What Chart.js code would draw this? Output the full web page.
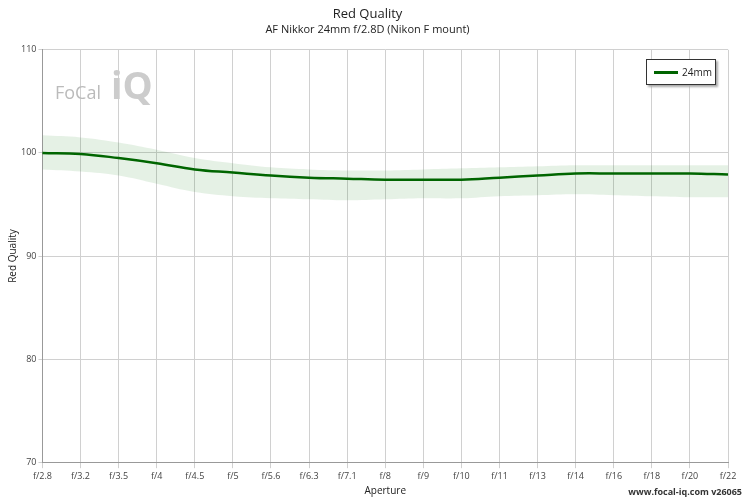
<!DOCTYPE html>
<html>
<head>
<meta charset="utf-8">
<script src="https://cdn.jsdelivr.net/npm/chart.js@4"></script>
<style>
  body { margin: 0; background: #fff; font-family: "Open Sans", sans-serif; }
  #wrap { position: relative; width: 750px; height: 500px; }
  #logo { position: absolute; left: 55px; top: 58px; font-size: 18px; color: #bbb; }
  #logo b { font-size: 38px; color: #ccc; }
  #legend { position: absolute; left: 646px; top: 59px; width: 68px; height: 24px; border: 1px solid #333;
            box-shadow: 2px 2px 2px #aaa; font-size: 10px; color: #222; background: #fff; }
  #legend span { position: absolute; left: 7px; top: 11px; width: 24px; height: 3px; background: #006400; }
  #legend em { position: absolute; left: 35px; top: 5px; font-style: normal; }
  #foot { position: absolute; right: 8px; bottom: 2px; font-size: 9px; font-weight: bold; color: #333; }
</style>
</head>
<body>
<div id="wrap">
  <canvas id="c" width="750" height="500"></canvas>
  <div id="logo">FoCal<b> iQ</b></div>
  <div id="legend"><span></span><em>24mm</em></div>
  <div id="foot">www.focal-iq.com v26065</div>
</div>
<script>
const apertures = ['f/2.8','f/3.2','f/3.5','f/4','f/4.5','f/5','f/5.6','f/6.3','f/7.1','f/8','f/9','f/10','f/11','f/13','f/14','f/16','f/18','f/20','f/22'];
const quality = [100, 99.9, 99.5, 99.0, 98.4, 98.1, 97.8, 97.6, 97.5, 97.4, 97.4, 97.4, 97.6, 97.8, 98.0, 98.0, 98.0, 98.0, 97.9];
const upper = [101.7, 101.5, 101.0, 100.3, 99.5, 99.0, 98.6, 98.4, 98.3, 98.3, 98.4, 98.5, 98.6, 98.7, 98.8, 98.8, 98.8, 98.8, 98.8];
const lower = [98.4, 98.2, 97.8, 97.0, 96.2, 95.8, 95.6, 95.5, 95.4, 95.5, 95.6, 95.6, 95.8, 95.9, 96.0, 95.9, 95.8, 95.7, 95.7];

Chart.defaults.font.family = '"Open Sans", sans-serif';
Chart.defaults.color = '#444';

new Chart(document.getElementById('c'), {
  type: 'line',
  data: {
    labels: apertures,
    datasets: [
      { label: 'upper', data: upper, borderWidth: 0, pointRadius: 0, fill: false, tension: 0.4 },
      { label: 'lower', data: lower, borderWidth: 0, pointRadius: 0, fill: '-1', backgroundColor: 'rgba(0,120,0,0.1)', tension: 0.4 },
      { label: '24mm', data: quality, borderColor: '#006400', borderWidth: 2.5, pointRadius: 0, fill: false, tension: 0.4 }
    ]
  },
  options: {
    responsive: false,
    animation: false,
    layout: { padding: { left: 7, right: 22, top: 0, bottom: 3 } },
    plugins: {
      title: { display: true, text: 'Red Quality', font: { size: 13, weight: 'normal' }, color: '#222', padding: { top: 6, bottom: 2 } },
      subtitle: { display: true, text: 'AF Nikkor 24mm f/2.8D (Nikon F mount)', font: { size: 11 }, color: '#222', padding: { bottom: 13 } },
      legend: { display: false },
      tooltip: { enabled: false }
    },
    scales: {
      x: {
        title: { display: true, text: 'Aperture', font: { size: 10 }, color: '#222', padding: 0 },
        ticks: { font: { size: 9 }, maxRotation: 0, autoSkip: false },
        grid: { color: '#d0d0d0', tickLength: 6 },
        border: { color: '#999' }
      },
      y: {
        min: 70, max: 110,
        title: { display: true, text: 'Red Quality', font: { size: 10 }, color: '#222', padding: 0 },
        ticks: { stepSize: 10, font: { size: 9 }, padding: 2 },
        grid: { color: '#d0d0d0', tickLength: 4 },
        border: { color: '#999' }
      }
    }
  }
});
</script>
</body>
</html>
